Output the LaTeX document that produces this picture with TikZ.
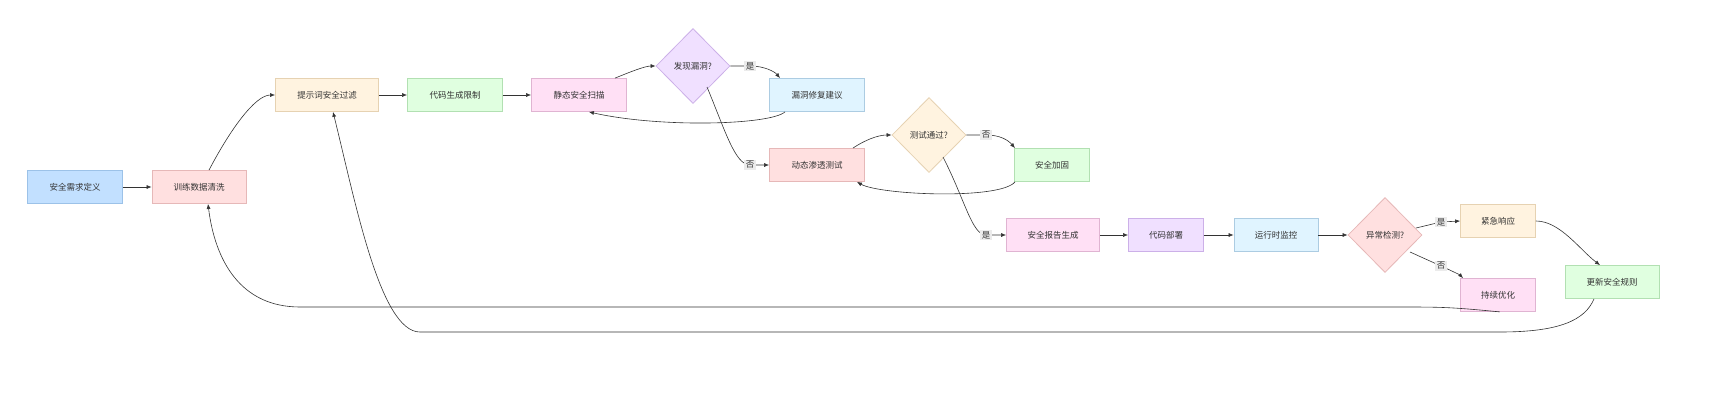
\documentclass[tikz,border=0pt]{standalone}
\usepackage{fontspec}
\setmainfont{Noto Sans CJK SC}
\usetikzlibrary{shapes.geometric,arrows.meta}
\definecolor{fBlue}{HTML}{C2E0FF}\definecolor{dBlue}{HTML}{9CC2E8}
\definecolor{fPink}{HTML}{FFE0E0}\definecolor{dPink}{HTML}{E6B8B8}
\definecolor{fCream}{HTML}{FFF3E0}\definecolor{dCream}{HTML}{E6D2B2}
\definecolor{fGreen}{HTML}{E0FFE0}\definecolor{dGreen}{HTML}{B2E0B2}
\definecolor{fMag}{HTML}{FFE0F5}\definecolor{dMag}{HTML}{E0B4D2}
\definecolor{fSky}{HTML}{E0F4FF}\definecolor{dSky}{HTML}{ACCCE2}
\definecolor{fPur}{HTML}{F0E0FF}\definecolor{dPur}{HTML}{CCB0E8}
\definecolor{edge}{HTML}{333333}
\tikzset{
 box/.style={draw=#1, line width=0.8pt, minimum height=33pt, inner sep=0pt, font=\fontsize{8.5pt}{10pt}\selectfont, text=black!80},
 bx/.style={box=d#1, fill=f#1},
 dia/.style={diamond, aspect=1, draw=d#1, fill=f#1, line width=0.8pt, inner sep=0pt, font=\fontsize{8.5pt}{10pt}\selectfont, text=black!80},
 arr/.style={draw=edge, line width=0.6pt, -{Latex[length=5pt,width=4pt]}},
 lab/.style={fill=black!8, inner sep=1.5pt, font=\fontsize{8.5pt}{10pt}\selectfont, text=black!80}
}
\begin{document}
\begin{tikzpicture}[x=1pt,y=-1pt]
\useasboundingbox (0,0) rectangle (1734,400);
\node[bx=Blue, minimum width=95pt] (a) at (75,187) {安全需求定义};
\node[bx=Pink, minimum width=94pt] (b) at (199,187) {训练数据清洗};
\node[bx=Cream, minimum width=103pt] (c) at (327,95) {提示词安全过滤};
\node[bx=Green, minimum width=95pt] (d) at (455,95) {代码生成限制};
\node[bx=Mag, minimum width=95pt] (e) at (579,95) {静态安全扫描};
\node[dia=Pur, minimum width=74pt, minimum height=75pt] (f) at (693,66) {};
\node[font=\fontsize{8.5pt}{10pt}\selectfont, text=black!80] at (693,66) {发现漏洞?};
\node[bx=Sky, minimum width=95pt] (g) at (817,95) {漏洞修复建议};
\node[bx=Pink, minimum width=95pt] (h) at (817,165) {动态渗透测试};
\node[dia=Cream, minimum width=74pt, minimum height=75pt] (i) at (929,135) {};
\node[font=\fontsize{8.5pt}{10pt}\selectfont, text=black!80] at (929,135) {测试通过?};
\node[bx=Green, minimum width=75pt] (j) at (1052,165) {安全加固};
\node[bx=Mag, minimum width=93pt] (k) at (1053,235) {安全报告生成};
\node[bx=Pur, minimum width=75pt] (l) at (1166,235) {代码部署};
\node[bx=Sky, minimum width=84pt] (m) at (1276,235) {运行时监控};
\node[dia=Pink, minimum width=74pt, minimum height=75pt] (n) at (1385,235) {};
\node[font=\fontsize{8.5pt}{10pt}\selectfont, text=black!80] at (1385,235) {异常检测?};
\node[bx=Cream, minimum width=75pt] (o) at (1498,221) {紧急响应};
\node[bx=Mag, minimum width=75pt] (p) at (1498,295) {持续优化};
\node[bx=Green, minimum width=94pt] (q) at (1612,282) {更新安全规则};

\draw[arr] (a) -- (b);
\draw[arr] ([xshift=10pt]b.north) .. controls (230,130) and (255,95) .. (c.west);
\draw[arr] (c) -- (d);
\draw[arr] (d) -- (e);
\draw[arr] ([xshift=36pt]e.north) .. controls (630,72) and (645,66) .. (f.west);
\draw[arr] (f.east) -- (750,66) .. controls (765,66) and (775,72) .. ([xshift=-37pt]g.north);
\node[lab] at (750,66) {是};
\draw[arr] ([xshift=-32pt]g.south) .. controls (770,125) and (660,128) .. ([xshift=-38pt]e.south east);
\draw[arr] (707,87) .. controls (725,130) and (735,165) .. (750,165) -- (h.west);
\node[lab] at (750,165) {否};
\draw[arr] ([xshift=-12pt]h.north east) .. controls (865,140) and (878,135) .. (i.west);
\draw[arr] (i.east) -- (986,135) .. controls (1000,135) and (1008,140) .. ([xshift=-37pt]j.north);
\node[lab] at (986,135) {否};
\draw[arr] ([xshift=-37pt]j.south) .. controls (1000,200) and (880,195) .. ([xshift=-8pt]h.south east);
\draw[arr] (943,157) .. controls (965,200) and (972,235) .. (986,235) -- (k.west);
\node[lab] at (986,235) {是};
\draw[arr] (k) -- (l);
\draw[arr] (l) -- (m);
\draw[arr] (m) -- (n);
\draw[arr] (1416,228) -- (1441,222) -- (o.west);
\node[lab] at (1441,222) {是};
\draw[arr] (1410,252) -- (1441,266) .. controls (1450,270) and (1460,275) .. ([xshift=-35pt]p.north);
\node[lab] at (1441,266) {否};
\draw[arr] (o.east) .. controls (1560,221) and (1580,250) .. ([xshift=-12pt]q.north);
\draw[arr] ([xshift=-36pt]p.south east) .. controls (1450,307) and (1440,307) .. (1400,307) -- (300,307) .. controls (240,307) and (215,260) .. ([xshift=9pt]b.south);
\draw[arr] ([xshift=-18pt]q.south) .. controls (1585,320) and (1560,332) .. (1500,332) -- (420,332) .. controls (380,332) and (355,200) .. ([xshift=6pt]c.south);
\end{tikzpicture}
\end{document}
